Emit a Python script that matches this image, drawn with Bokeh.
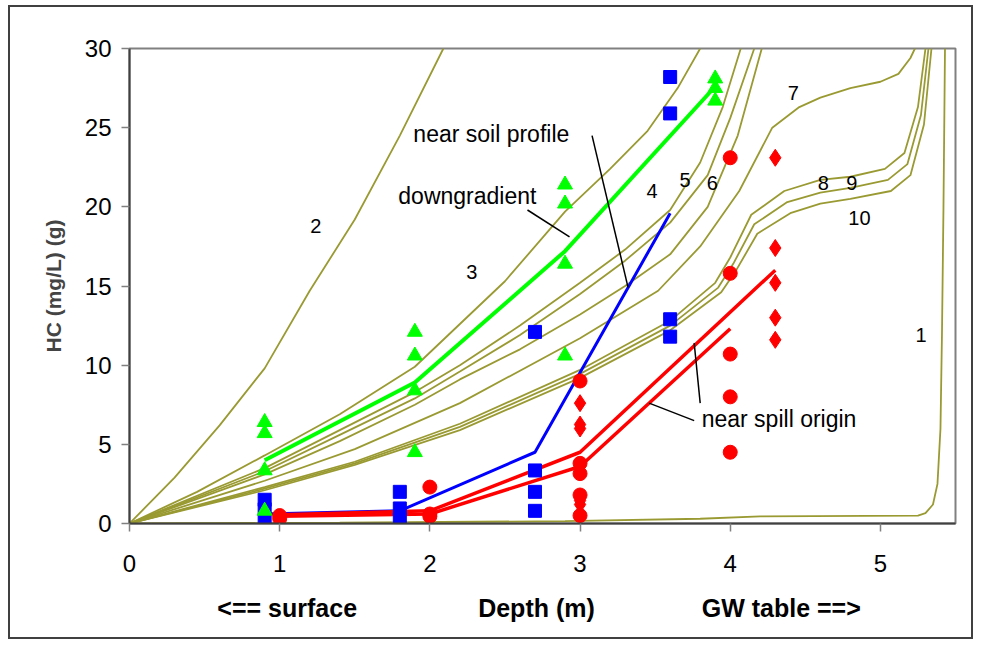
from bokeh.plotting import figure
from bokeh.models import Range1d, Label, LinearAxis, FixedTicker
from bokeh.embed import file_html
from bokeh.resources import INLINE

# ---- model curves (depth m, HC) ----
c1_x = [0, 1.4, 2.9, 3.8, 4.2, 5.25, 5.3, 5.35, 5.38, 5.40, 5.41, 5.42, 5.43]
c1_y = [0, 0.05, 0.15, 0.3, 0.45, 0.5, 0.65, 1.2, 2.5, 6, 12, 20, 30]
c2_x = [0, 0.3, 0.6, 0.9, 1.2, 1.5, 1.8, 2.09]
c2_y = [0, 2.9, 6.2, 9.8, 14.7, 19.2, 24.5, 30]
c3_x = [0, 0.45, 0.9, 1.4, 1.9, 2.2, 2.5, 2.9, 3.2, 3.45, 3.65, 3.8]
c3_y = [0, 2.0, 4.3, 6.9, 9.9, 12.6, 15.3, 19.7, 22.4, 24.8, 27.5, 30]
c4_x = [0, 0.9, 1.4, 1.9, 2.2, 2.6, 3.0, 3.3, 3.6, 3.8, 3.95, 4.07]
c4_y = [0, 3.5, 5.9, 8.3, 10.0, 12.5, 15.2, 17.3, 19.8, 22.8, 26.3, 30]
c5_x = [0, 0.9, 1.4, 1.9, 2.2, 2.6, 3.0, 3.3, 3.6, 3.85, 4.0, 4.16]
c5_y = [0, 3.3, 5.6, 7.9, 9.6, 11.9, 14.5, 16.6, 19.0, 22.0, 25.6, 30]
c6_x = [0, 0.9, 1.4, 1.9, 2.2, 2.6, 3.0, 3.3, 3.6, 3.85, 4.05, 4.21]
c6_y = [0, 3.1, 5.2, 7.5, 9.1, 11.0, 13.2, 15.0, 17.0, 20.0, 24.5, 30]
c7_x = [0, 0.9, 1.5, 2.2, 3.0, 3.52, 3.8, 4.06, 4.28, 4.46, 4.6, 4.8, 5.0, 5.12, 5.2, 5.23]
c7_y = [0, 2.7, 4.7, 7.6, 11.7, 14.7, 17.5, 21.0, 25.0, 26.3, 26.9, 27.5, 27.9, 28.4, 29.4, 30]
c8_x = [0, 0.9, 1.5, 2.2, 3.0, 3.6, 3.9, 4.0, 4.14, 4.36, 4.6, 4.8, 5.03, 5.16, 5.25, 5.30]
c8_y = [0, 2.3, 3.9, 6.3, 9.7, 12.8, 15.2, 16.8, 19.5, 21.0, 21.7, 21.9, 22.4, 23.4, 26.3, 30]
c9_x = [0, 0.9, 1.5, 2.2, 3.0, 3.6, 3.92, 4.02, 4.16, 4.38, 4.6, 4.8, 5.05, 5.18, 5.27, 5.32]
c9_y = [0, 2.2, 3.8, 6.1, 9.45, 12.5, 14.9, 16.4, 18.9, 20.3, 20.9, 21.2, 21.7, 22.7, 25.8, 30]
c10_x = [0, 0.9, 1.5, 2.2, 3.0, 3.6, 3.94, 4.04, 4.18, 4.40, 4.6, 4.8, 5.07, 5.20, 5.29, 5.34]
c10_y = [0, 2.1, 3.7, 5.9, 9.2, 12.2, 14.6, 16.0, 18.3, 19.6, 20.2, 20.5, 21.0, 22.0, 25.2, 30]

curve_xs = [c1_x, c2_x, c3_x, c4_x, c5_x, c6_x, c7_x, c8_x, c9_x, c10_x]
curve_ys = [c1_y, c2_y, c3_y, c4_y, c5_y, c6_y, c7_y, c8_y, c9_y, c10_y]
curve_names = ["1", "2", "3", "4", "5", "6", "7", "8", "9", "10"]
curve_label_x = [5.27, 1.24, 2.28, 3.48, 3.70, 3.88, 4.42, 4.62, 4.81, 4.86]
curve_label_y = [11.9, 18.8, 15.9, 21.0, 21.7, 21.5, 27.2, 21.5, 21.5, 19.3]

# ---- observations ----
sq_x = [0.9, 0.9, 0.9, 1.8, 1.8, 1.8, 2.7, 2.7, 2.7, 2.7, 3.6, 3.6, 3.6, 3.6]
sq_y = [1.5, 0.9, 0.2, 2.0, 0.95, 0.25, 12.1, 3.35, 2.0, 0.8, 28.2, 25.9, 12.9, 11.8]
tri_x = [0.9, 0.9, 0.9, 0.9, 1.9, 1.9, 1.9, 1.9, 2.9, 2.9, 2.9, 2.9, 3.9, 3.9, 3.9]
tri_y = [6.4, 5.7, 3.35, 0.8, 12.1, 10.6, 8.4, 4.5, 21.4, 20.2, 16.4, 10.6, 28.1, 27.5, 26.7]
circ_x = [1.0, 1.0, 2.0, 2.0, 2.0, 3.0, 3.0, 3.0, 3.0, 3.0, 4.0, 4.0, 4.0, 4.0, 4.0]
circ_y = [0.5, 0.3, 2.3, 0.6, 0.45, 9.0, 3.8, 3.15, 1.8, 0.5, 23.1, 15.8, 10.7, 8.0, 4.5]
dia_x = [3.0, 3.0, 3.0, 3.0, 3.0, 4.3, 4.3, 4.3, 4.3, 4.3]
dia_y = [7.6, 6.25, 6.0, 1.45, 1.2, 23.1, 17.4, 15.2, 13.0, 11.6]

# mean lines
soil_x = [0.9, 1.8, 2.7, 3.6]
soil_y = [0.6, 0.8, 4.5, 19.6]
down_x = [0.9, 1.9, 2.9, 3.9]
down_y = [4.0, 8.9, 17.2, 27.6]
spillA_x = [1.0, 2.0, 3.0, 4.3]
spillA_y = [0.55, 0.8, 4.5, 16.0]
spillB_x = [1.0, 2.0, 3.0, 4.0]
spillB_y = [0.45, 0.6, 3.6, 12.3]

# annotations
ann_text = ["near soil profile", "downgradient", "near spill origin"]
ann_x = [1.89, 1.79, 3.81]
ann_y = [24.6, 20.7, 6.6]
lead_x0 = [3.08, 2.65, 3.76, 3.46]
lead_y0 = [24.5, 19.8, 11.4, 7.6]
lead_x1 = [3.32, 2.93, 3.80, 3.76]
lead_y1 = [14.9, 18.1, 7.6, 6.5]

x_ticks = [0, 1, 2, 3, 4, 5]
y_ticks = [0, 5, 10, 15, 20, 25, 30]
bottom_text = ["<== surface", "Depth (m)", "GW table ==>"]
bottom_x = [1.05, 2.71, 4.34]

FONT = "Liberation Sans"
OLIVE = "#9a9a33"

p = figure(width=965, height=634, x_range=Range1d(0, 5.5), y_range=Range1d(0, 30),
           output_backend="svg", toolbar_location=None,
           min_border_left=119, min_border_right=20, min_border_top=41, min_border_bottom=118)
p.styles = {"border": "2px solid #404040", "margin-left": "8px", "margin-top": "5px"}
p.xgrid.visible = False
p.ygrid.visible = False
p.outline_line_color = "#808080"
p.outline_line_width = 2

for ax in (p.xaxis[0], p.yaxis[0]):
    ax.axis_line_color = "#404040"
    ax.axis_line_width = 2
    ax.major_tick_line_color = "#808080"
    ax.major_tick_line_width = 1.5
    ax.major_tick_out = 8
    ax.major_tick_in = 0
    ax.minor_tick_line_color = None
    ax.major_label_text_font = FONT
    ax.major_label_text_font_size = "24px"
    ax.major_label_text_color = "black"
p.xaxis.ticker = x_ticks
p.yaxis.ticker = y_ticks
p.xaxis.major_label_standoff = 23
p.yaxis.major_label_standoff = 10
p.yaxis.axis_label = "HC (mg/L) (g)"
p.yaxis.axis_label_text_font = FONT
p.yaxis.axis_label_text_font_style = "bold"
p.yaxis.axis_label_text_font_size = "21px"
p.yaxis.axis_label_standoff = 17

# second axis below carrying the three bottom captions
cap_axis = LinearAxis(ticker=FixedTicker(ticks=bottom_x),
                      major_label_overrides={bx: t for bx, t in zip(bottom_x, bottom_text)})
cap_axis.axis_line_color = None
cap_axis.major_tick_line_color = None
cap_axis.minor_tick_line_color = None
cap_axis.major_tick_out = 0
cap_axis.major_label_standoff = 19
cap_axis.major_label_text_font = FONT
cap_axis.major_label_text_font_style = "bold"
cap_axis.major_label_text_font_size = "25px"
cap_axis.major_label_text_color = "black"
p.add_layout(cap_axis, "below")

for xs, ys in zip(curve_xs, curve_ys):
    p.line(xs, ys, line_color=OLIVE, line_width=1.8)

p.line(down_x, down_y, line_color="#00ff00", line_width=4)
p.line(soil_x, soil_y, line_color="#0000ff", line_width=3)
p.line(spillA_x, spillA_y, line_color="#ff0000", line_width=3.5)
p.line(spillB_x, spillB_y, line_color="#ff0000", line_width=3.5)

p.segment(lead_x0, lead_y0, lead_x1, lead_y1, line_color="black", line_width=1.5)

p.scatter(sq_x, sq_y, marker="square", size=13, fill_color="#0000ff", line_color="#0000ff")
p.scatter(tri_x, tri_y, marker="triangle", size=15, fill_color="#00ff00", line_color="#00ff00")
p.scatter(circ_x, circ_y, marker="circle", size=14, fill_color="#ff0000", line_color="#ff0000")
p.scatter(dia_x, dia_y, marker="diamond", size=17, fill_color="#ff0000", line_color="#ff0000")

for t, x, y in zip(curve_names, curve_label_x, curve_label_y):
    p.add_layout(Label(x=x, y=y, text=t, text_font=FONT, text_font_size="20px",
                       text_align="center", text_baseline="middle", text_color="black"))
for t, x, y in zip(ann_text, ann_x, ann_y):
    p.add_layout(Label(x=x, y=y, text=t, text_font=FONT, text_font_size="23px",
                       text_align="left", text_baseline="middle", text_color="black"))

open("out.html", "w").write(file_html(p, INLINE))
